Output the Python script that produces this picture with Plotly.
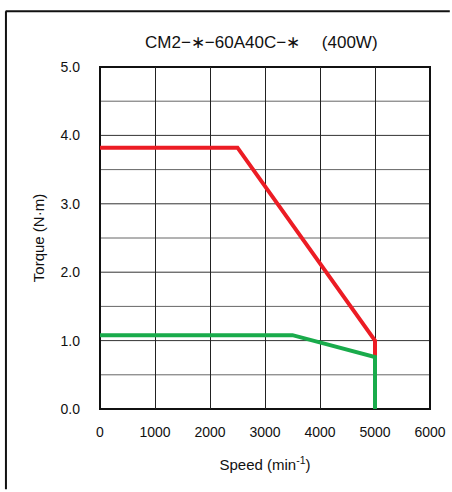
import plotly.graph_objects as go

title_text = "CM2−∗−60A40C−∗　 (400W)"
speed_max = [0, 2500, 5000, 5000]
torque_max = [3.82, 3.82, 1.0, 0.0]
speed_rated = [0, 3500, 5000, 5000]
torque_rated = [1.08, 1.08, 0.76, 0.0]
x_ticks = [0, 1000, 2000, 3000, 4000, 5000, 6000]
y_ticks = [0.0, 1.0, 2.0, 3.0, 4.0, 5.0]
y_tick_labels = ["0.0", "1.0", "2.0", "3.0", "4.0", "5.0"]
y_grid = [0.5, 1.0, 1.5, 2.0, 2.5, 3.0, 3.5, 4.0, 4.5]

font_main = "Liberation Sans, Arial, sans-serif"

fig = go.Figure()
fig.add_trace(go.Scatter(x=speed_max, y=torque_max, mode="lines",
                         line=dict(color="#ec1c24", width=4), cliponaxis=False,
                         showlegend=False, hoverinfo="skip"))
fig.add_trace(go.Scatter(x=speed_rated, y=torque_rated, mode="lines",
                         line=dict(color="#19ab4b", width=4), cliponaxis=False,
                         showlegend=False, hoverinfo="skip"))

fig.update_layout(
    width=452, height=492,
    margin=dict(l=100, r=22, t=67, b=83),
    paper_bgcolor="white", plot_bgcolor="white",
    font=dict(family=font_main, size=14, color="#111"),
    showlegend=False,
)
fig.update_xaxes(
    range=[0, 6000], tickvals=x_ticks, ticktext=[str(v) for v in x_ticks],
    showgrid=True, gridcolor="#222", gridwidth=1, zeroline=False,
    ticks="", ticklabelstandoff=13, tickfont=dict(size=14),
    title=dict(text="Speed (min<sup>-1</sup>)", font=dict(size=15), standoff=20),
    showline=False, automargin=False,
)
fig.update_yaxes(
    range=[0, 5], tickvals=y_ticks, ticktext=y_tick_labels,
    showgrid=False, zeroline=False,
    ticks="", ticklabelstandoff=19, tickfont=dict(size=14),
    title=dict(text="Torque (N·m)", font=dict(size=15), standoff=12),
    showline=False, automargin=False,
)
# horizontal grid every 0.5
for i, v in enumerate(y_grid):
    fig.add_shape(type="line", xref="paper", yref="y", x0=0, x1=1, y0=v, y1=v,
                  line=dict(color="#333" if i % 2 == 1 else "#666", width=1), layer="below")
# plot frame
fig.add_shape(type="rect", xref="paper", yref="paper", x0=0, x1=1, y0=0, y1=1,
              line=dict(color="#111", width=2), layer="below")
# outer frame (left and top edges visible)
fig.add_shape(type="line", xref="paper", yref="paper", x0=-0.285, x1=-0.285, y0=-0.235, y1=1.163,
              line=dict(color="#111", width=2))
fig.add_shape(type="line", xref="paper", yref="paper", x0=-0.286, x1=1.06, y0=1.163, y1=1.163,
              line=dict(color="#111", width=2))
fig.add_annotation(text=title_text, xref="paper", yref="paper", x=0.49, y=1.072,
                   showarrow=False, font=dict(size=17, family=font_main, color="#111"),
                   xanchor="center", yanchor="middle")

fig.write_html("out.html", config={"displayModeBar": False},
               post_script="document.body.style.margin='0';document.body.style.padding='0';")
